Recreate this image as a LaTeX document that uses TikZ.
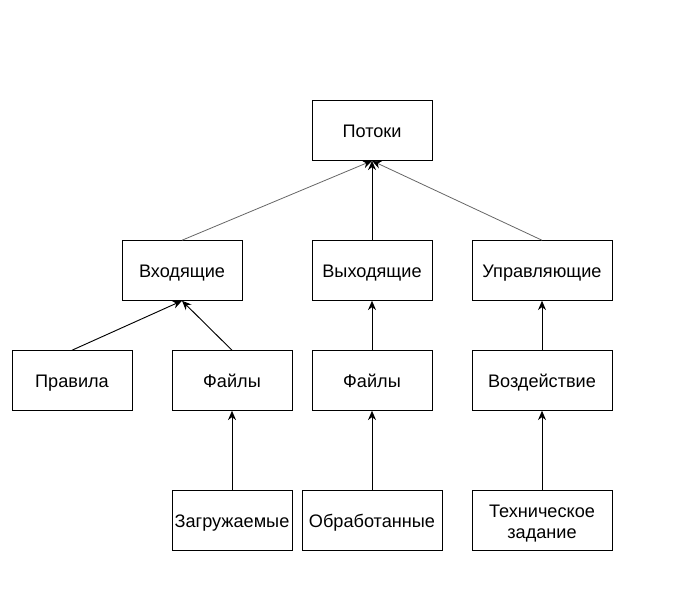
\documentclass[tikz,border=0pt]{standalone}
\usepackage{fontspec}
\setmainfont{Liberation Sans}
\usetikzlibrary{arrows.meta,positioning}

\begin{document}
\begin{tikzpicture}[x=0.75pt,y=-0.75pt]
\tikzstyle{every node}=[draw,rectangle,minimum width=90pt,minimum height=45pt,inner sep=1pt,font=\fontsize{13.6}{15.5}\selectfont,align=center,text height=1em,text depth=0pt]
\tikzstyle{wide}=[minimum width=105pt]
\tikzstyle{link}=[-{Stealth[length=7pt,width=6pt]},line width=0.7pt]
\tikzstyle{glink}=[-{Stealth[length=7pt,width=6pt,color=black]},line width=0.6pt,draw=black!60]
\useasboundingbox (0,0) rectangle (695,607);

% top
\node (potoki) at (372,130.5) {Потоки};

% middle
\node (vhod) at (182,270.5) {Входящие};
\node (vyhod) at (372,270.5) {Выходящие};
\node[wide] (uprav) at (542,270.5) {Управляющие};

\node (pravila) at (72,380.5) {Правила};
\node (faylyA) at (232,380.5) {Файлы};
\node (faylyB) at (372,380.5) {Файлы};
\node[wide] (vozd) at (542,380.5) {Воздействие};

% bottom
\node (zagr) at (232,520.5) {Загружаемые};
\node[wide] (obrab) at (372,520.5) {Обработанные};
\node[wide,text height=26.25pt] (tehz) at (542,520.5) {Техническое\\задание};

\draw[glink] (vhod.north) -- (potoki.south);
\draw[link] (vyhod.north) -- (potoki.south);
\draw[glink] (uprav.north) -- (potoki.south);

\draw[link] (pravila.north) -- (vhod.south);
\draw[link] (faylyA.north) -- (vhod.south);
\draw[link] (faylyB.north) -- (vyhod.south);
\draw[link] (vozd.north) -- (uprav.south);

\draw[link] (zagr.north) -- (faylyA.south);
\draw[link] (obrab.north) -- (faylyB.south);
\draw[link] (tehz.north) -- (vozd.south);
\end{tikzpicture}
\end{document}
